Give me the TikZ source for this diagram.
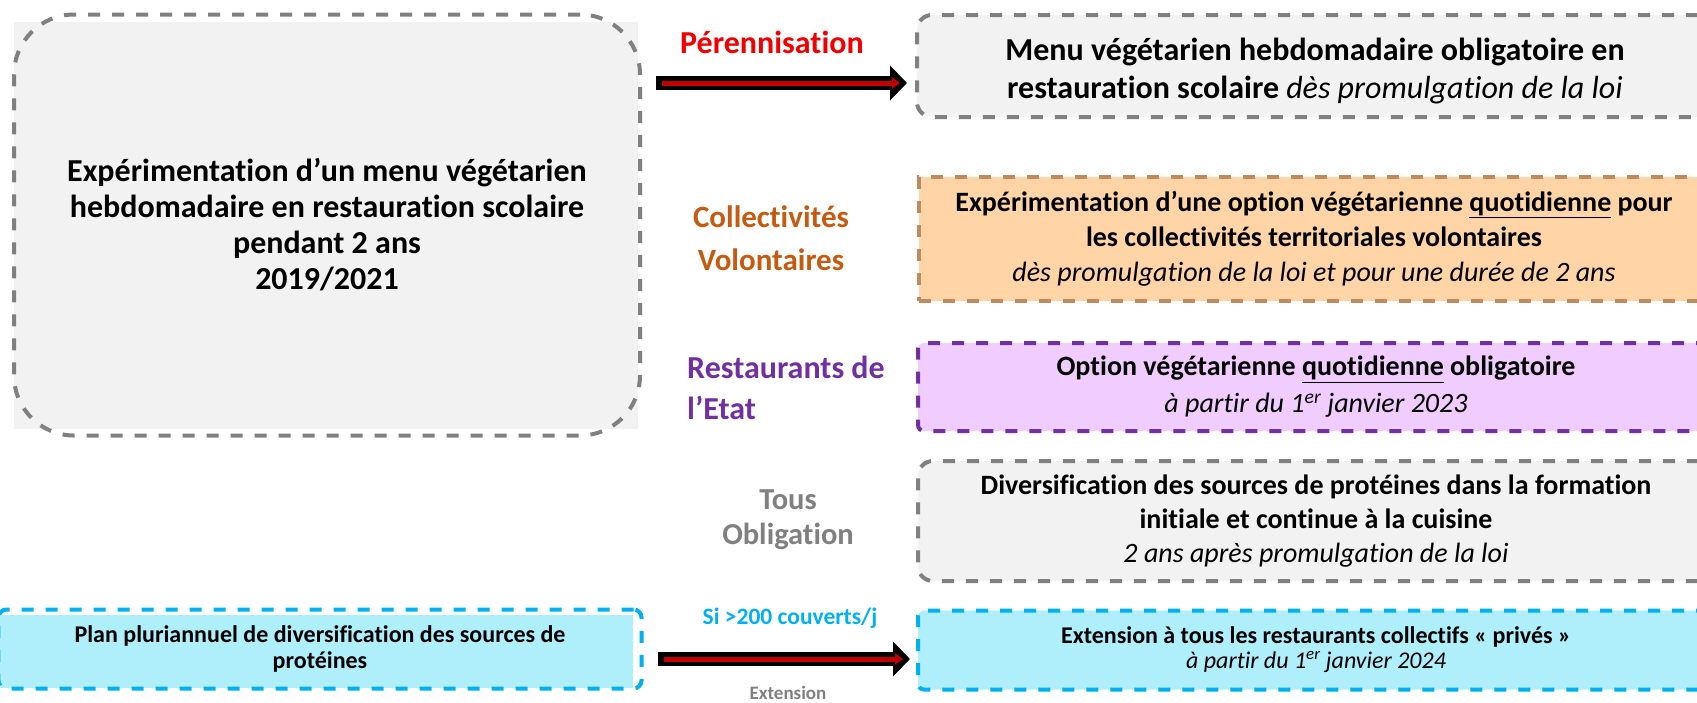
\documentclass[tikz,border=0pt]{standalone}
\usepackage{fontspec}
\setmainfont{Carlito}[Ligatures={NoCommon}]
\usetikzlibrary{arrows.meta}
\definecolor{gborder}{HTML}{808080}
\definecolor{gfill}{HTML}{F2F2F2}
\definecolor{oborder}{HTML}{BE8A5E}
\definecolor{ofill}{HTML}{FFD4A6}
\definecolor{pborder}{HTML}{7030A0}
\definecolor{pfill}{HTML}{F1CDFF}
\definecolor{cborder}{HTML}{00B0F0}
\definecolor{cfill}{HTML}{AFEEFB}
\definecolor{redlab}{HTML}{F00000}
\definecolor{orlab}{HTML}{C55A11}
\definecolor{graylab}{HTML}{808080}
\definecolor{darkred}{HTML}{C00000}
\begin{document}
\begin{tikzpicture}[x=1pt,y=-1pt,
  box/.style={draw, line width=4pt, dash pattern=on 12pt off 12pt, align=center, inner sep=0pt, text=black},
  graybox/.style={box, draw=gborder, fill=gfill},
  bigarrow/.style={line width=14pt, -{Triangle[length=17pt,width=34pt]}},
  redarrow/.style={line width=5pt, draw=darkred, -{Triangle[length=8pt,width=11pt]}},
  lab/.style={font=\bfseries, align=center, inner sep=0pt}
]
\clip (0,0) rectangle (1697,702);
% big left box
\fill[gfill] (14,22) rectangle (638,429);
\node[box, draw=gborder, rounded corners=60pt, minimum width=626pt, minimum height=421pt,
      font=\fontsize{32}{36}\selectfont\bfseries] (big) at (327,225)
  {Expérimentation d’un menu végétarien\\hebdomadaire en restauration scolaire\\pendant 2 ans\\2019/2021};
% right boxes
\node[graybox, rounded corners=15pt, minimum width=796pt, minimum height=102pt] (b1) at (1315,66) {};
\node[align=center, inner sep=0pt, font=\fontsize{32}{38}\selectfont] (b1t) at (1315,71)
  {\textbf{Menu végétarien hebdomadaire obligatoire en}\\\textbf{restauration scolaire} \textit{dès promulgation de la loi}};
\node[box, draw=oborder, fill=ofill, minimum width=790pt, minimum height=124pt,
      font=\fontsize{28}{35}\selectfont] (b2) at (1314,239)
  {\textbf{Expérimentation d’une option végétarienne \underline{quotidienne} pour}\\\textbf{les collectivités territoriales volontaires}\\\textit{dès promulgation de la loi et pour une durée de 2 ans}};
\node[box, draw=pborder, fill=pfill, rounded corners=6pt, minimum width=796pt, minimum height=88pt,
      font=\fontsize{28}{37}\selectfont] (b3) at (1316,387)
  {\textbf{Option végétarienne \underline{quotidienne} obligatoire}\\\textit{à partir du 1\textsuperscript{er} janvier 2023}};
\node[graybox, rounded corners=15pt, minimum width=796pt, minimum height=120pt,
      font=\fontsize{28}{34}\selectfont] (b4) at (1316,521)
  {\textbf{Diversification des sources de protéines dans la formation}\\\textbf{initiale et continue à la cuisine}\\\textit{2 ans après promulgation de la loi}};
\node[box, draw=cborder, fill=cfill, rounded corners=6pt, minimum width=796pt, minimum height=79pt,
      font=\fontsize{24}{25}\selectfont] (b5) at (1316,650)
  {\textbf{Extension à tous les restaurants collectifs « privés »}\\\textit{à partir du 1\textsuperscript{er} janvier 2024}};
% left cyan box
\fill[cfill] (0,615) rectangle (633,688);
\node[box, draw=cborder, rounded corners=8pt, minimum width=643pt, minimum height=79pt,
      font=\fontsize{24}{26}\selectfont\bfseries] (plan) at (320,649)
  {Plan pluriannuel de diversification des sources de\\protéines};
% labels
\node[lab, text=redlab, font=\fontsize{32}{34}\selectfont\bfseries] (lper) at (772,42) {Pérennisation};
\node[lab, text=orlab, font=\fontsize{31}{43}\selectfont\bfseries] (lcol) at (771,238) {Collectivités\\Volontaires};
\node[lab, text=pborder, align=left, anchor=west, font=\fontsize{32}{41}\selectfont\bfseries] (lres) at (687,388) {Restaurants de\\l’Etat};
\node[lab, text=graylab, font=\fontsize{30.5}{35}\selectfont\bfseries] (ltous) at (788,520) {Tous\\Obligation};
\node[lab, text=cborder, font=\fontsize{23.5}{24}\selectfont\bfseries] (lsi) at (790,618) {Si >200 couverts/j};
\node[lab, text=graylab, font=\fontsize{19}{22}\selectfont\bfseries] (lext) at (788,693) {Extension};
% arrows
\coordinate (a1s) at (656,83);
\coordinate (a1e) at (907,83);
\coordinate (r1s) at (662,83);
\coordinate (r1e) at (900,83);
\coordinate (a2s) at (658,659);
\coordinate (a2e) at (910,659);
\coordinate (r2s) at (664,659);
\coordinate (r2e) at (903,659);
\draw[bigarrow] (a1s) -- (a1e);
\draw[redarrow] (r1s) -- (r1e);
\draw[bigarrow] (a2s) -- (a2e);
\draw[redarrow] (r2s) -- (r2e);
\end{tikzpicture}
\end{document}
